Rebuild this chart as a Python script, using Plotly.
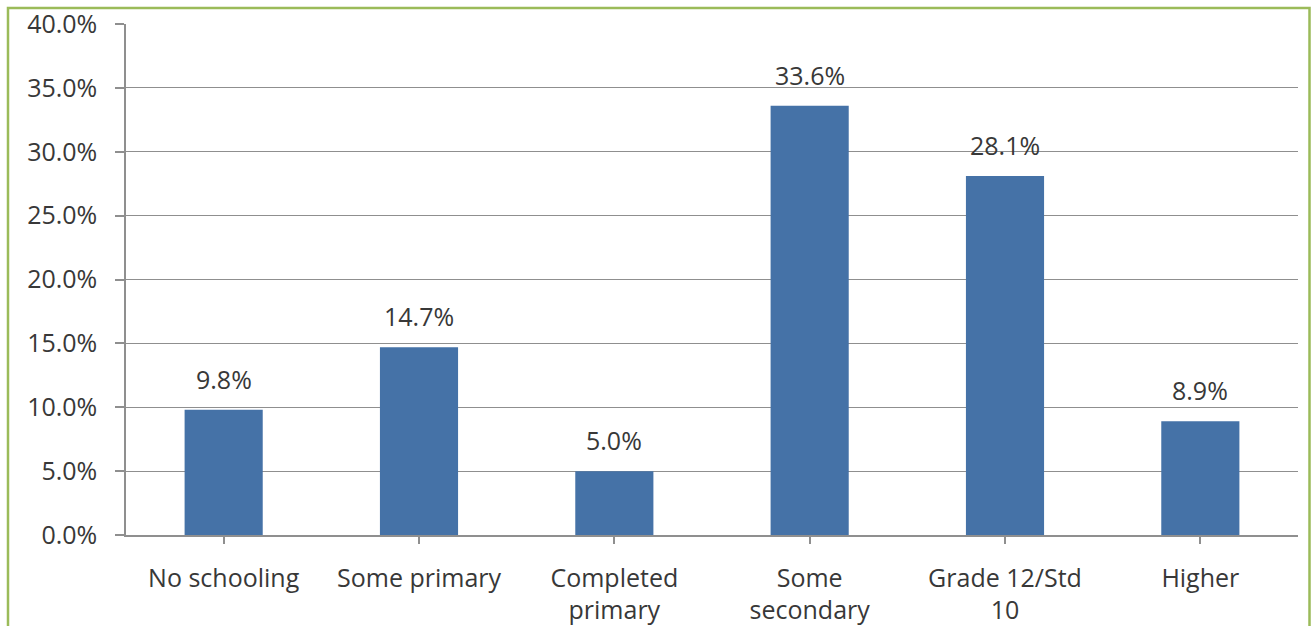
import plotly.graph_objects as go

categories = ["No schooling", "Some primary", "Completed<br>primary", "Some<br>secondary", "Grade 12/Std<br>10", "Higher"]
values = [9.8, 14.7, 5.0, 33.6, 28.1, 8.9]
y_ticks = [0, 5, 10, 15, 20, 25, 30, 35, 40]

FONT = "'Open Sans', sans-serif"
TXT = "#383838"
BAR = "#4572A7"
GRID = "#8f8f8f"
FS = 25

fig = go.Figure()
fig.add_trace(go.Bar(
    x=list(range(len(categories))), y=values,
    marker=dict(color=BAR, line=dict(width=0)),
    width=0.4,
))

for i, v in enumerate(values):
    fig.add_annotation(x=i, y=v, text=f"{v:.1f}%", showarrow=False,
                       xref="x", yref="y", yanchor="bottom", yshift=12,
                       font=dict(family=FONT, size=FS, color=TXT))

W, H = 1311, 626
L, R, T, B = 126, 13, 24, 91
pw, ph = W - L - R, H - T - B
fig.add_shape(type="rect", xref="paper", yref="paper",
              x0=(8 - L) / pw, x1=(1309.5 - L) / pw,
              y0=(H - B - 660) / ph, y1=(H - B - 8) / ph,
              line=dict(color="#9BBB59", width=2.5), layer="below")

fig.update_layout(
    width=W, height=H,
    margin=dict(l=L, r=R, t=T, b=B, autoexpand=False),
    paper_bgcolor="white", plot_bgcolor="white",
    showlegend=False,
    bargap=0.6,
    font=dict(family=FONT, size=FS, color=TXT),
    xaxis=dict(
        tickmode="array", tickvals=list(range(len(categories))), ticktext=categories,
        range=[-0.5, len(categories) - 0.5],
        showline=True, linecolor=GRID, linewidth=1.5,
        ticks="outside", ticklen=7, tickcolor=GRID, tickwidth=1.5,
        showgrid=False, zeroline=False, automargin=False,
        tickfont=dict(family=FONT, size=FS, color=TXT),
        ticklabelstandoff=13,
    ),
    yaxis=dict(
        range=[0, 40], tickvals=y_ticks,
        ticktext=[f"{t:.1f}%" for t in y_ticks],
        showline=True, linecolor=GRID, linewidth=1.5,
        ticks="outside", ticklen=9, tickcolor=GRID, tickwidth=1.5,
        showgrid=True, gridcolor=GRID, gridwidth=1.2,
        zeroline=False, automargin=False,
        tickfont=dict(family=FONT, size=FS, color=TXT),
        ticklabelstandoff=13,
    ),
)

fig.write_html("out.html")
